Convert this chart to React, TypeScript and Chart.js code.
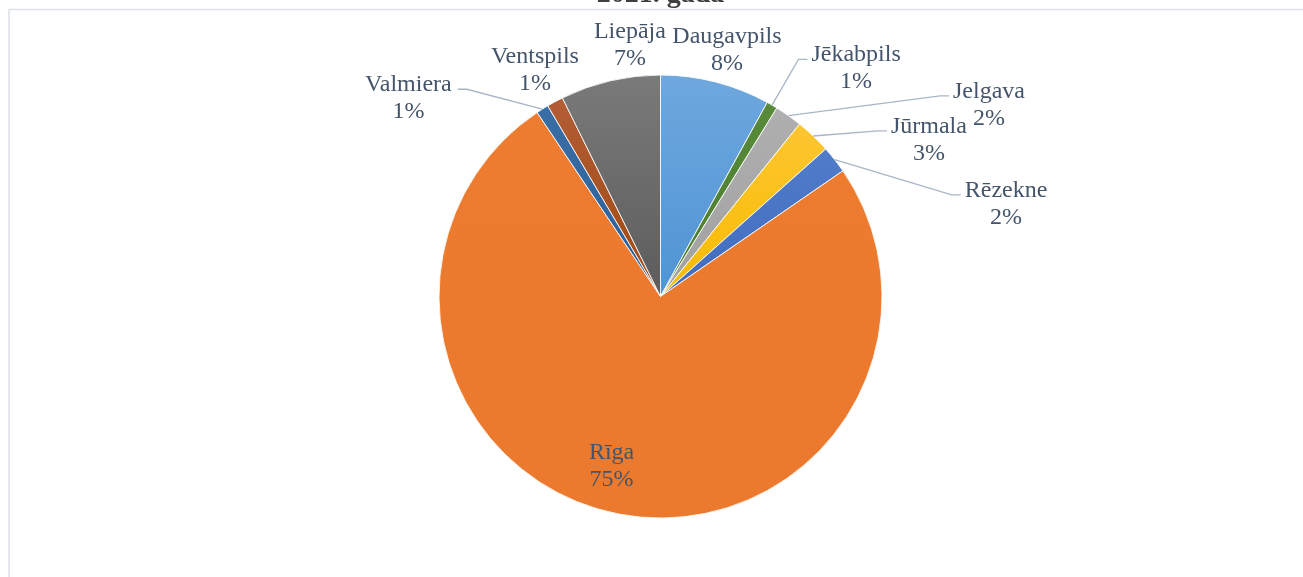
import React, { useEffect, useRef } from "react";
import { Chart, registerables } from "chart.js";

Chart.register(...registerables);

const TITLE = "2021. gada";
const cities = ["Daugavpils", "Jēkabpils", "Jelgava", "Jūrmala", "Rēzekne", "Rīga", "Valmiera", "Ventspils", "Liepāja"];
const shares = [8.0, 0.8, 2.0, 2.6, 2.0, 75.2, 0.9, 1.2, 7.3];

const topColors = ["#6EA8DE", "#5A8C3C", "#B2B2B2", "#FFC93E", "#5884CE", "#ED7D31", "#3B70A9", "#B5603A", "#7A7A7A"];
const baseColors = ["#4F94D4", "#4A7C2E", "#A0A0A0", "#F7BB00", "#416CC0", "#EC7A2E", "#2C5F98", "#9E480E", "#5C5C5C"];

// label placement relative to the pie centre, in units of the radius
const labelPlacement: { fx: number; fy: number; leader: "left" | "right" | null }[] = [
  { fx: 0.30, fy: -1.113, leader: null },
  { fx: 0.883, fy: -1.03, leader: "right" },
  { fx: 1.483, fy: -0.865, leader: "right" },
  { fx: 1.212, fy: -0.707, leader: "right" },
  { fx: 1.56, fy: -0.418, leader: "right" },
  { fx: -0.221, fy: 0.765, leader: null },
  { fx: -1.138, fy: -0.895, leader: "left" },
  { fx: -0.567, fy: -1.021, leader: null },
  { fx: -0.138, fy: -1.133, leader: null },
];

const SHIFT = 30;
const FONT = "'Liberation Serif', 'Times New Roman', serif";

const framePlugin = {
  id: "frame",
  beforeDraw(chart: any) {
    const ctx = chart.ctx;
    ctx.save();
    ctx.strokeStyle = "#DCE1E8";
    ctx.lineWidth = 1.5;
    ctx.strokeRect(9, 9.5 + SHIFT, 1400, 800);
    ctx.restore();
  },
};

const labelsPlugin = {
  id: "sliceLabels",
  afterDatasetsDraw(chart: any) {
    const ctx = chart.ctx;
    const meta = chart.getDatasetMeta(0);
    const data = chart.data.datasets[0].data as number[];
    const total = data.reduce((a, b) => a + b, 0);
    ctx.save();
    ctx.font = `24px ${FONT}`;
    ctx.textAlign = "center";
    ctx.textBaseline = "middle";
    meta.data.forEach((arc: any, i: number) => {
      const { x, y, startAngle, endAngle, outerRadius } = arc.getProps(
        ["x", "y", "startAngle", "endAngle", "outerRadius"],
        true
      );
      const place = labelPlacement[i];
      const lx = x + place.fx * outerRadius;
      const ly = y + place.fy * outerRadius;
      const l1 = String(chart.data.labels[i]);
      const l2 = Math.round((data[i] / total) * 100) + "%";
      const w = Math.max(ctx.measureText(l1).width, ctx.measureText(l2).width);
      if (place.leader) {
        const mid = (startAngle + endAngle) / 2;
        const sx = x + Math.cos(mid) * outerRadius;
        const sy = y + Math.sin(mid) * outerRadius;
        const ay = ly - 9;
        const dir = place.leader === "right" ? 1 : -1;
        const ex = dir > 0 ? lx - w / 2 - 4 : lx + w / 2 + 6;
        const bx = ex - dir * 9;
        ctx.beginPath();
        ctx.strokeStyle = "#A9B5C6";
        ctx.lineWidth = 1.3;
        ctx.moveTo(sx, sy);
        ctx.lineTo(bx, ay);
        ctx.lineTo(ex, ay);
        ctx.stroke();
      }
      ctx.fillStyle = "#44546A";
      ctx.fillText(l1, lx, ly - 13.5);
      ctx.fillText(l2, lx, ly + 13.5);
    });
    ctx.restore();
  },
};

export default function App() {
  const ref = useRef<HTMLCanvasElement | null>(null);
  useEffect(() => {
    if (!ref.current) return;
    const chart = new Chart(ref.current, {
      type: "pie",
      data: {
        labels: cities,
        datasets: [
          {
            data: shares,
            backgroundColor: (c: any) => {
              const i = c.dataIndex;
              const area = c.chart.chartArea;
              if (!area) return baseColors[i];
              const cy = (area.top + area.bottom) / 2;
              const g = c.chart.ctx.createLinearGradient(0, area.top, 0, cy);
              g.addColorStop(0, topColors[i]);
              g.addColorStop(1, baseColors[i]);
              return g;
            },
            borderColor: "rgba(255,255,255,0.85)",
            borderWidth: 1,
          },
        ],
      },
      options: {
        responsive: false,
        animation: false,
        layout: { padding: { left: 218, right: 200, top: 0, bottom: 58.5 } },
        plugins: {
          legend: { display: false },
          tooltip: { enabled: false },
          title: {
            display: true,
            text: TITLE,
            color: "#404040",
            font: { family: FONT, size: 28, weight: "bold" },
            padding: { top: 8, bottom: 62.9 },
          },
        },
      },
      plugins: [framePlugin, labelsPlugin],
    });
    return () => chart.destroy();
  }, []);
  return (
    <div style={{ position: "absolute", left: 0, top: 0, width: 1303, height: 577, overflow: "hidden", background: "#fff" }}>
      <canvas
        ref={ref}
        width={1303}
        height={577 + SHIFT}
        style={{ position: "absolute", left: 0, top: -SHIFT, width: 1303, height: 577 + SHIFT }}
      />
    </div>
  );
}
